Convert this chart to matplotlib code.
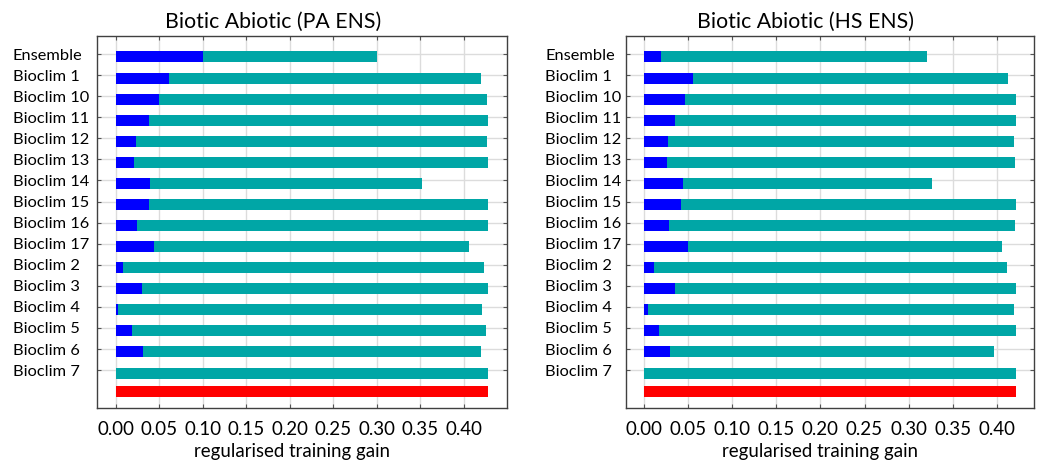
import matplotlib
matplotlib.use("Agg")
import matplotlib.pyplot as plt
import numpy as np

plt.rcParams['font.family'] = ['Lato', 'DejaVu Sans']

variables = ["Ensemble", "Bioclim 1", "Bioclim 10", "Bioclim 11", "Bioclim 12",
             "Bioclim 13", "Bioclim 14", "Bioclim 15", "Bioclim 16", "Bioclim 17",
             "Bioclim 2", "Bioclim 3", "Bioclim 4", "Bioclim 5", "Bioclim 6",
             "Bioclim 7"]
xticks = [0.00, 0.05, 0.10, 0.15, 0.20, 0.25, 0.30, 0.35, 0.40]

# PA ENS
pa_without = [0.300, 0.420, 0.427, 0.428, 0.427, 0.428, 0.352, 0.428,
              0.428, 0.406, 0.423, 0.428, 0.4215, 0.426, 0.420, 0.428]
pa_only = [0.100, 0.061, 0.050, 0.039, 0.024, 0.021, 0.040, 0.039,
           0.025, 0.044, 0.008, 0.030, 0.003, 0.019, 0.031, 0.0]
pa_all = 0.428

# HS ENS
hs_without = [0.321, 0.413, 0.422, 0.422, 0.419, 0.421, 0.326, 0.422,
              0.421, 0.406, 0.411, 0.422, 0.420, 0.422, 0.397, 0.422]
hs_only = [0.019, 0.056, 0.046, 0.035, 0.027, 0.026, 0.044, 0.042,
           0.028, 0.050, 0.011, 0.035, 0.004, 0.017, 0.029, 0.0]
hs_all = 0.422

TEAL = '#00a6a6'
BLUE = '#0000ff'
RED = '#ff0000'


def draw_panel(ax, title, without, only, with_all, xlim, label_pad, title_x, xlabel_x):
    n = len(variables)
    ypos = np.arange(n) + 0.14
    ax.barh(ypos, without, height=0.52, color=TEAL, zorder=2)
    ax.barh(ypos, only, height=0.52, color=BLUE, zorder=3)
    ax.barh([n], [with_all], height=0.52, color=RED, zorder=2)

    ax.set_xlim(*xlim)
    ax.set_ylim(16.8, -0.854)
    ax.set_xticks(xticks)
    ax.set_xticklabels([f"{t:.2f}" for t in xticks], fontsize=13.5)
    ax.set_yticks(np.arange(n))
    ax.set_yticklabels(variables, fontsize=11.8, ha='left')
    ax.tick_params(axis='y', direction='in', length=3, pad=label_pad,
                   right=True, color='#555555')
    ax.tick_params(axis='x', direction='in', length=3, pad=9,
                   top=True, color='#555555')
    ax.grid(True, color='#dcdcdc', linewidth=1.0, zorder=0)
    ax.set_axisbelow(True)
    for s in ax.spines.values():
        s.set_color('#404040')
        s.set_linewidth(1.0)
    ax.set_xlabel("regularised training gain", fontsize=13.4)
    ax.xaxis.set_label_coords(xlabel_x, -0.095, transform=ax.transAxes)
    ax.xaxis.label.set_va('top')
    ax.set_title(title, fontsize=15.3, x=title_x, pad=6)


def main():
    fig = plt.figure(figsize=(10.38, 4.67), dpi=100)
    ax1 = fig.add_axes([0.0937, 0.1263, 0.3950, 0.7966])
    ax2 = fig.add_axes([0.6031, 0.1263, 0.3926, 0.7966])
    draw_panel(ax1, "Biotic Abiotic (PA ENS)", pa_without, pa_only, pa_all,
               (-0.021, 0.45), 61, 0.43, 0.476)
    draw_panel(ax2, "Biotic Abiotic (HS ENS)", hs_without, hs_only, hs_all,
               (-0.0204, 0.4416), 58, 0.44, 0.476)
    fig.savefig("out.png", dpi=100)


if __name__ == "__main__":
    main()
